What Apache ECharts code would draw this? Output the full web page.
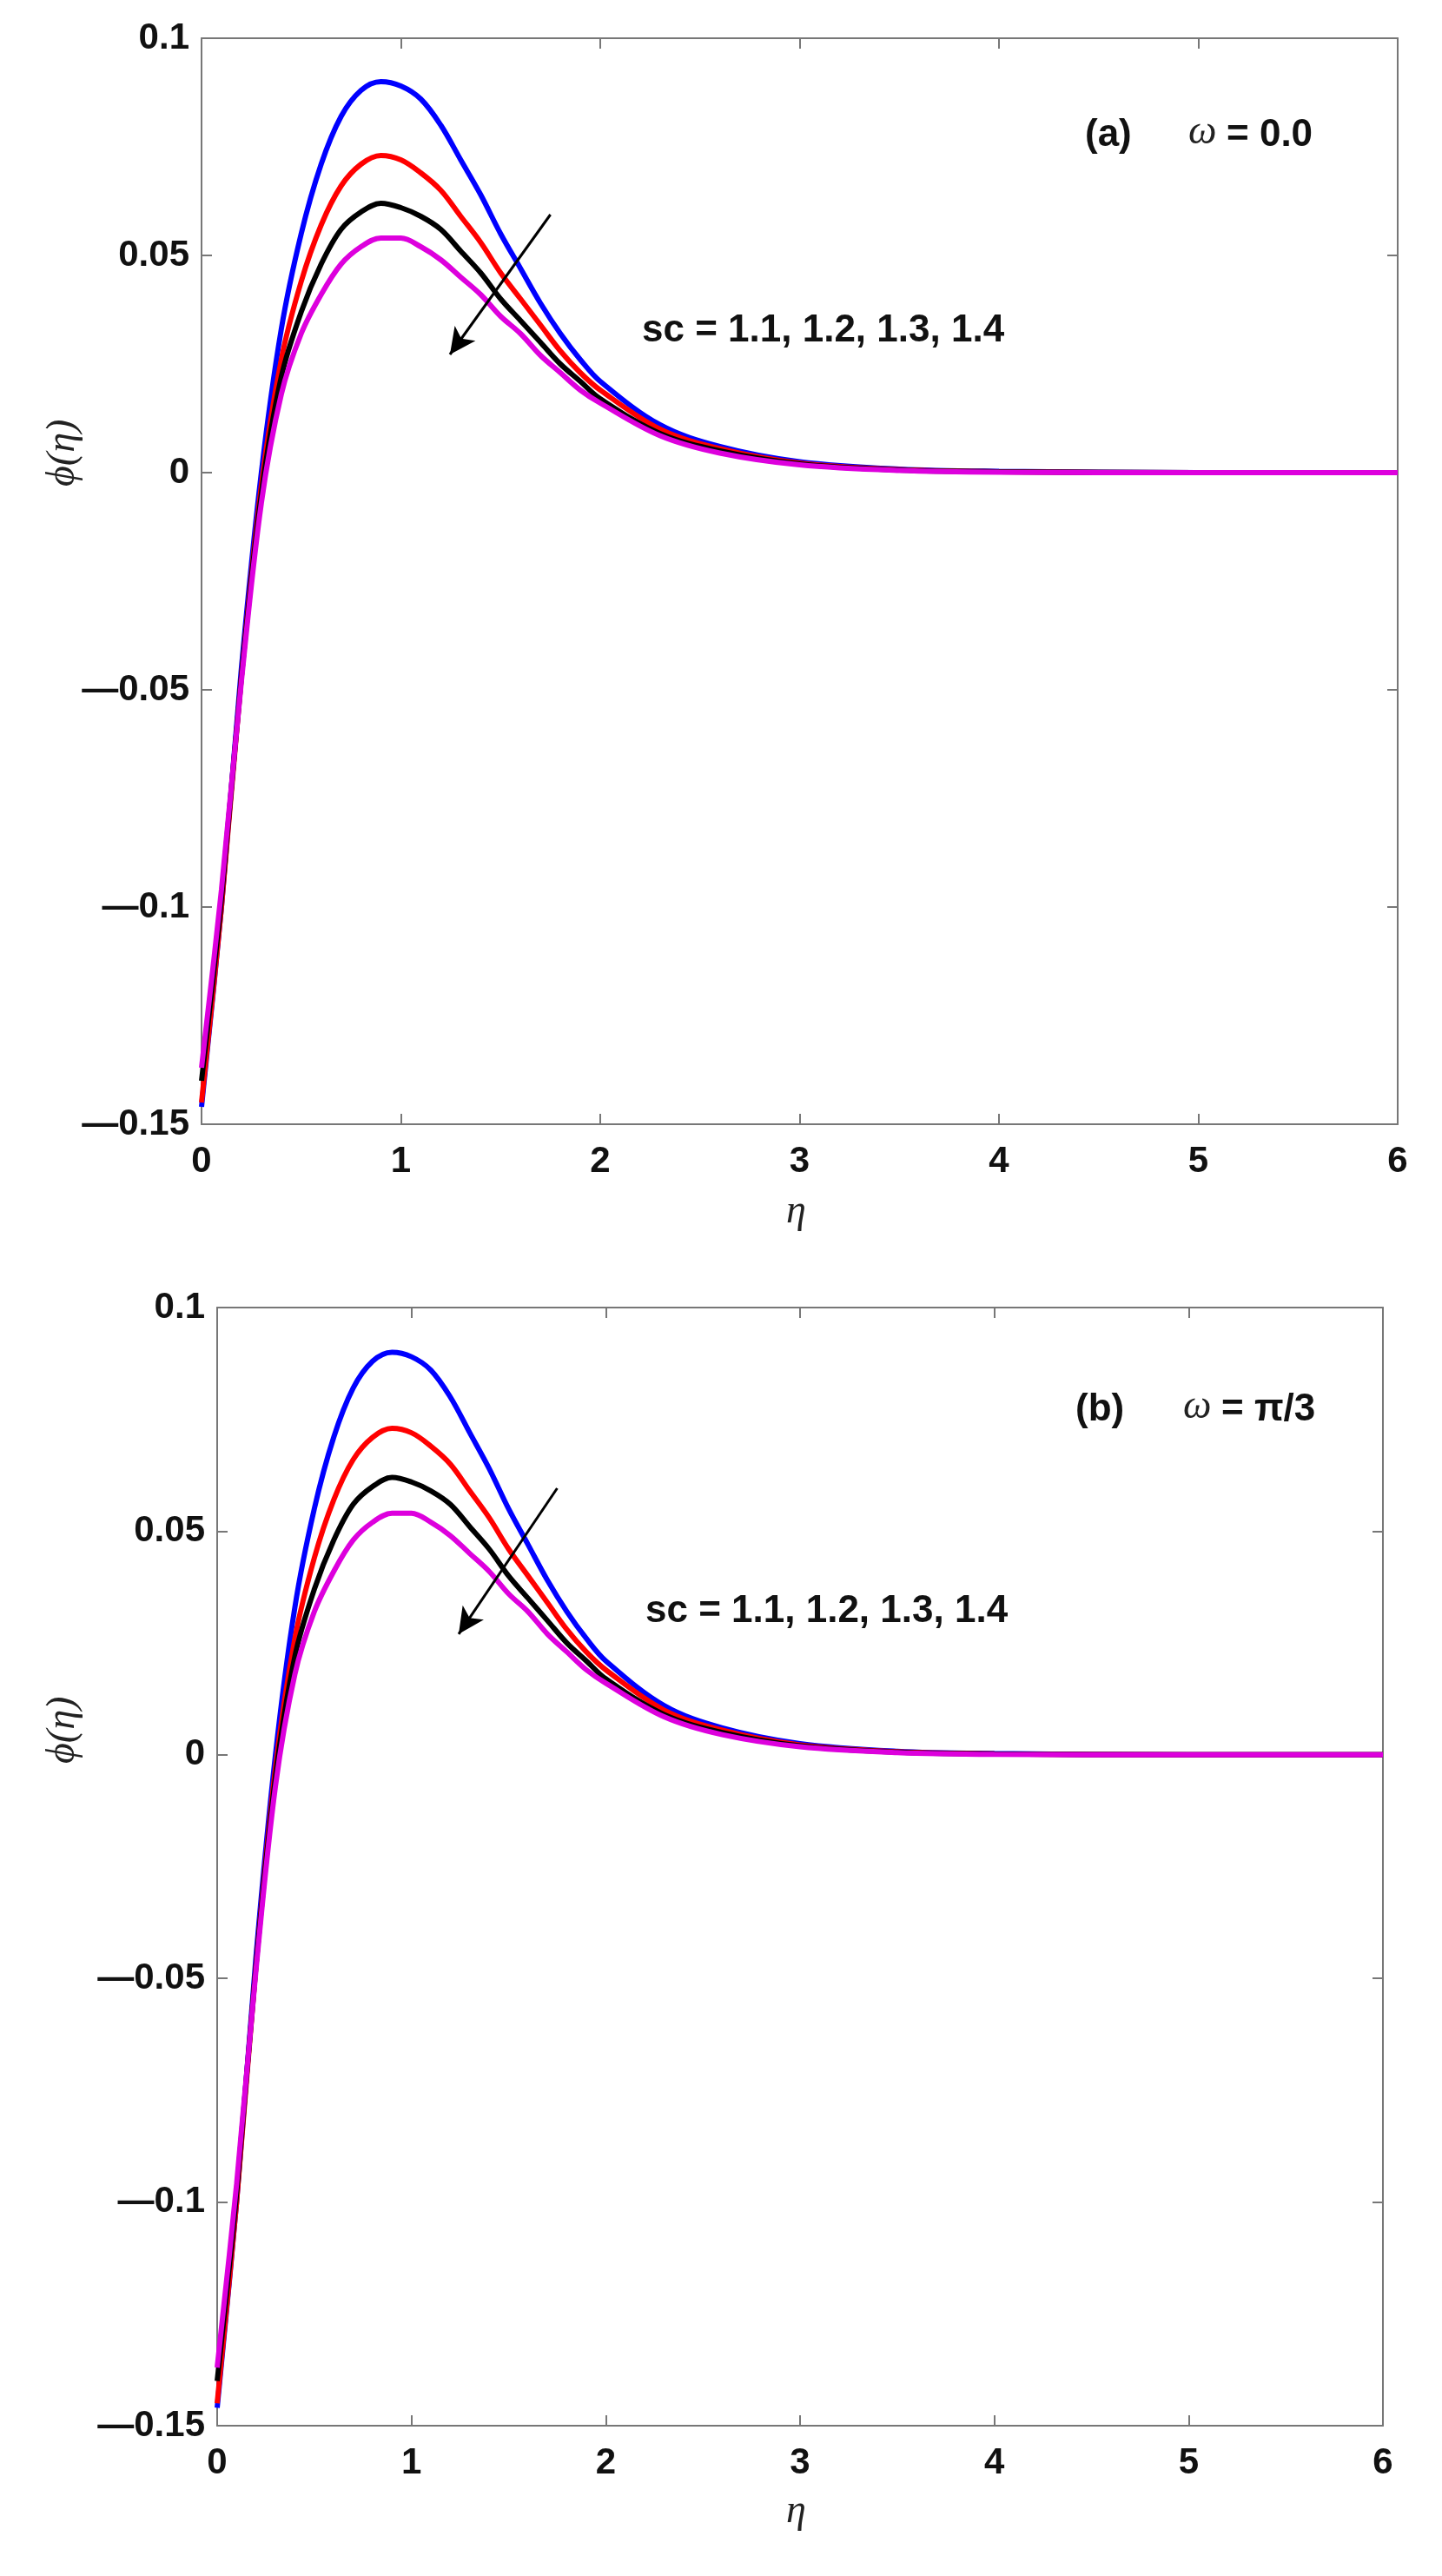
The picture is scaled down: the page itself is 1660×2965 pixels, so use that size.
<!DOCTYPE html>
<html><head><meta charset="utf-8">
<script src="https://cdn.jsdelivr.net/npm/echarts@6/dist/echarts.min.js"></script>
<style>html,body{margin:0;padding:0;background:#fff}#c{width:1660px;height:2965px}</style>
</head><body><div id="c"></div>
<script>
const eta = [0,0.1,0.2,0.3,0.4,0.5,0.6,0.7,0.8,0.9,1.0,1.1,1.2,1.3,1.4,1.5,1.6,1.7,1.8,1.9,2.0,2.3,2.6,3.0,3.5,4,5,6];
const scLabels = ['sc = 1.1','sc = 1.2','sc = 1.3','sc = 1.4'];
const colors = ['#0000ff','#ff0000','#000000','#dd00dd'];
const a_sc11 = [-0.146,-0.100,-0.045,0.000,0.033,0.055,0.071,0.082,0.088,0.090,0.089,0.086,0.080,0.072,0.064,0.055,0.047,0.039,0.032,0.026,0.021,0.011,0.006,0.0025,0.0008,0.0003,0,0];
const a_sc12 = [-0.145,-0.100,-0.047,-0.003,0.026,0.044,0.057,0.066,0.071,0.073,0.072,0.069,0.065,0.059,0.053,0.046,0.040,0.034,0.028,0.023,0.019,0.010,0.0055,0.0022,0.0007,0.0002,0,0];
const a_sc13 = [-0.140,-0.098,-0.047,-0.005,0.022,0.037,0.048,0.056,0.060,0.062,0.061,0.059,0.056,0.051,0.046,0.040,0.035,0.030,0.025,0.021,0.017,0.009,0.005,0.002,0.0006,0.0002,0,0];
const a_sc14 = [-0.137,-0.096,-0.048,-0.007,0.018,0.032,0.041,0.048,0.052,0.054,0.054,0.052,0.049,0.045,0.041,0.036,0.032,0.027,0.023,0.019,0.016,0.0085,0.0045,0.0018,0.0005,0.0001,0,0];
const b_sc11 = [-0.146,-0.100,-0.045,0.000,0.033,0.055,0.071,0.082,0.088,0.090,0.089,0.086,0.080,0.072,0.064,0.055,0.047,0.039,0.032,0.026,0.021,0.011,0.006,0.0025,0.0008,0.0003,0,0];
const b_sc12 = [-0.145,-0.100,-0.047,-0.003,0.026,0.044,0.057,0.066,0.071,0.073,0.072,0.069,0.065,0.059,0.053,0.046,0.040,0.034,0.028,0.023,0.019,0.010,0.0055,0.0022,0.0007,0.0002,0,0];
const b_sc13 = [-0.140,-0.098,-0.047,-0.005,0.022,0.037,0.048,0.056,0.060,0.062,0.061,0.059,0.056,0.051,0.046,0.040,0.035,0.030,0.025,0.021,0.017,0.009,0.005,0.002,0.0006,0.0002,0,0];
const b_sc14 = [-0.137,-0.096,-0.048,-0.007,0.018,0.032,0.041,0.048,0.052,0.054,0.054,0.052,0.049,0.045,0.041,0.036,0.032,0.027,0.023,0.019,0.016,0.0085,0.0045,0.0018,0.0005,0.0001,0,0];
const arrowA = [[1.75,0.0594],[1.246,0.0272]];
const arrowB = [[1.75,0.0596],[1.243,0.027]];
const xTicks = [0,1,2,3,4,5,6];
const yTicks = [-0.15,-0.1,-0.05,0,0.05,0.1];

const lab = {fontFamily:'Liberation Sans, Arial', fontWeight:'bold', fontSize:42, color:'#111'};
const lineC = '#777';
function yFmt(v){ if (Math.abs(v)<1e-9) return '0'; const s = String(+v.toFixed(2)); return s.replace('-', '\u2014'); }
function axes(gi){
  const tick = {inside:true,length:12,lineStyle:{color:lineC,width:2}};
  const line = {onZero:false, lineStyle:{color:lineC,width:2}};
  return {
    x: [
      {type:'value', gridIndex:gi, min:0, max:6, interval:1, position:'bottom', axisLine:line, axisTick:tick,
       axisLabel:Object.assign({margin:22},lab), splitLine:{show:false}},
      {type:'value', gridIndex:gi, min:0, max:6, interval:1, position:'top', axisLine:line, axisTick:tick,
       axisLabel:{show:false}, splitLine:{show:false}}
    ],
    y: [
      {type:'value', gridIndex:gi, min:-0.15, max:0.1, interval:0.05, position:'left', axisLine:line, axisTick:tick,
       axisLabel:Object.assign({margin:14, formatter:yFmt},lab), splitLine:{show:false}},
      {type:'value', gridIndex:gi, min:-0.15, max:0.1, interval:0.05, position:'right', axisLine:line, axisTick:tick,
       axisLabel:{show:false}, splitLine:{show:false}}
    ]
  };
}
const A = axes(0), B = axes(1);
function ser(name, arr, ci, xi, yi){
  return {name, type:'line', xAxisIndex:xi, yAxisIndex:yi, smooth:0.35, symbol:'none',
    data: eta.map((x,i)=>[x,arr[i]]), lineStyle:{color:colors[ci], width:6}, itemStyle:{color:colors[ci]}};
}
function arrowSeries(arr, xi, yi){
  return {type:'line', xAxisIndex:xi, yAxisIndex:yi, data:[], silent:true,
    markLine:{silent:true, symbol:['none','arrow'], symbolSize:[22,30], label:{show:false},
      lineStyle:{color:'#000', width:3, type:'solid'},
      data:[[{coord:arr[0]},{coord:arr[1]}]]}};
}
const series = [
  ser(scLabels[0],a_sc11,0,0,0), ser(scLabels[1],a_sc12,1,0,0), ser(scLabels[2],a_sc13,2,0,0), ser(scLabels[3],a_sc14,3,0,0),
  ser(scLabels[0],b_sc11,0,2,2), ser(scLabels[1],b_sc12,1,2,2), ser(scLabels[2],b_sc13,2,2,2), ser(scLabels[3],b_sc14,3,2,2),
  arrowSeries(arrowA,0,0), arrowSeries(arrowB,2,2)
];
const ann = {fontFamily:'Liberation Sans Narrow, Liberation Sans, Arial', fontWeight:'bold', fontSize:44, fill:'#111'};
const ital = {fontFamily:'Liberation Serif, DejaVu Serif, serif', fontStyle:'italic', fontSize:46, fill:'#222'};
const option = {
  animation:false,
  grid:[{left:232, top:44, width:1377, height:1250},{left:250, top:1505, width:1342, height:1287}],
  xAxis:[...A.x, ...B.x], yAxis:[...A.y, ...B.y],
  series,
  graphic:[
    {type:'text', left:1249, top:134, style:Object.assign({text:'(a)'},ann)},
    {type:'text', left:1368, top:130, style:Object.assign({text:'ω'},ital)},
    {type:'text', left:1412, top:134, style:Object.assign({text:'= 0.0'},ann)},
    {type:'text', left:739, top:359, style:Object.assign({text:'sc = 1.1, 1.2, 1.3, 1.4'},ann)},
    {type:'text', left:1238, top:1601, style:Object.assign({text:'(b)'},ann)},
    {type:'text', left:1362, top:1597, style:Object.assign({text:'ω'},ital)},
    {type:'text', left:1406, top:1601, style:Object.assign({text:'= π/3'},ann)},
    {type:'text', left:743, top:1833, style:Object.assign({text:'sc = 1.1, 1.2, 1.3, 1.4'},ann)},
    {type:'text', left:905, top:1372, style:Object.assign({text:'η'},ital)},
    {type:'text', left:905, top:2868, style:Object.assign({text:'η'},ital)},
    {type:'text', x:50, y:560, rotation:Math.PI/2, style:Object.assign({text:'ϕ(η)'},ital)},
    {type:'text', x:50, y:2030, rotation:Math.PI/2, style:Object.assign({text:'ϕ(η)'},ital)}
  ]
};
echarts.init(document.getElementById('c')).setOption(option);
</script></body></html>
